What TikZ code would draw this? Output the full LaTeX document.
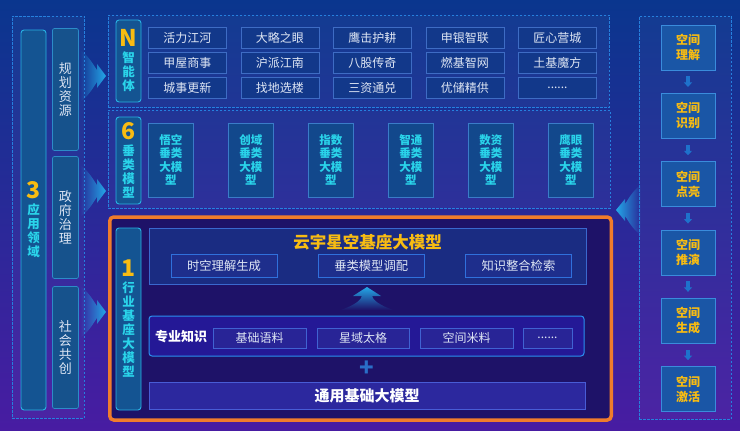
\documentclass[tikz,border=0pt]{standalone}
\usepackage{fontspec}
\setmainfont{Noto Sans CJK SC}
\usetikzlibrary{shapes,arrows,arrows.meta,fadings,positioning}
\definecolor{bgtop}{RGB}{10,54,142}
\definecolor{bgmid}{RGB}{9,24,94}
\definecolor{bgbot}{RGB}{72,28,162}
\definecolor{dashblue}{RGB}{38,128,222}
\definecolor{gold}{RGB}{248,188,18}
\definecolor{tagcyan}{RGB}{42,212,234}
\definecolor{tagfill}{RGB}{20,84,146}
\definecolor{tagline}{RGB}{40,178,228}
\definecolor{appfill}{RGB}{22,82,140}
\definecolor{appline}{RGB}{44,140,200}
\definecolor{gridline}{RGB}{62,108,196}
\definecolor{gridfill}{RGB}{18,56,138}
\definecolor{vertfill}{RGB}{18,72,140}
\definecolor{vertline}{RGB}{58,124,200}
\definecolor{softwhite}{RGB}{222,230,244}
\definecolor{orangeline}{RGB}{240,124,44}
\definecolor{deeppurple}{RGB}{30,18,104}
\definecolor{corefill}{RGB}{26,44,130}
\definecolor{coreline}{RGB}{58,104,206}
\definecolor{skillfill}{RGB}{30,46,140}
\definecolor{skillline}{RGB}{48,112,220}
\definecolor{knowfill}{RGB}{36,24,150}
\definecolor{knowline}{RGB}{42,144,240}
\definecolor{corpusfill}{RGB}{40,36,150}
\definecolor{corpusline}{RGB}{64,98,210}
\definecolor{basefill}{RGB}{44,40,158}
\definecolor{baseedge}{RGB}{72,92,214}
\definecolor{spacefill}{RGB}{26,86,166}
\definecolor{spaceline}{RGB}{58,140,220}
\definecolor{miniblue}{RGB}{30,114,204}
\definecolor{arrowcyan}{RGB}{36,168,232}
\definecolor{plusblue}{RGB}{42,110,200}
\tikzstyle{panel} = [draw=dashblue, dash pattern=on 2.5pt off 1.5pt, line width=0.9pt, fill=white, fill opacity=0.03, inner sep=0pt]
\tikzstyle{tag} = [draw=tagline, fill=tagfill, rounded corners=3pt, line width=0.9pt, inner sep=0pt, align=center, text=tagcyan, font=\bfseries\fontsize{12.5}{14}\selectfont]
\tikzstyle{appbox} = [draw=appline, fill=appfill, rounded corners=2pt, line width=0.7pt, minimum width=26pt, minimum height=122pt, inner sep=0pt, align=center, text=softwhite, font=\fontsize{13}{14}\selectfont]
\tikzstyle{agent} = [draw=gridline, fill=gridfill, line width=0.7pt, minimum width=78pt, minimum height=21pt, inner sep=0pt, text=softwhite, font=\fontsize{12}{12}\selectfont]
\tikzstyle{vertbox} = [draw=vertline, fill=vertfill, line width=0.8pt, minimum width=45pt, minimum height=74pt, inner sep=0pt, align=center, text=tagcyan, font=\bfseries\fontsize{11.5}{13.5}\selectfont]
\tikzstyle{found} = [draw=orangeline, line width=3.5pt, rounded corners=4pt, fill=deeppurple, inner sep=0pt]
\tikzstyle{corebox} = [draw=coreline, fill=corefill, line width=0.8pt, inner sep=0pt]
\tikzstyle{skill} = [draw=skillline, fill=skillfill, line width=0.9pt, minimum width=106pt, minimum height=23pt, inner sep=0pt, text=softwhite, font=\fontsize{12.3}{13}\selectfont]
\tikzstyle{knowbox} = [draw=knowline, fill=knowfill, line width=1pt, rounded corners=3pt, inner sep=0pt]
\tikzstyle{corpus} = [draw=corpusline, fill=corpusfill, line width=0.8pt, minimum height=20pt, inner sep=0pt, text=softwhite, font=\fontsize{12}{12}\selectfont]
\tikzstyle{basebox} = [draw=baseedge, fill=basefill, line width=0.8pt, inner sep=0pt, text=white, font=\bfseries\fontsize{15}{16}\selectfont]
\tikzstyle{spacebox} = [draw=spaceline, fill=spacefill, line width=0.8pt, minimum width=54pt, minimum height=45pt, inner sep=0pt, align=center, text=gold, font=\bfseries\fontsize{12}{15}\selectfont]
\tikzstyle{mini} = [draw=miniblue, line width=3.5pt, -{Triangle[width=8pt,length=4.5pt]}, shorten <=6pt, shorten >=6pt]
\tikzstyle{swoosh} = [fill=arrowcyan]
\newcommand\bignum[1]{{\fontsize{23}{24}\selectfont\color{gold}#1}}
\def\moredots{......}
\def\agentdx{92.5}
\def\vertdx{80}
\def\spacedy{68.3}

\begin{document}
\begin{tikzpicture}[x=1pt,y=-1pt]
    \useasboundingbox (0,0) rectangle (740,431);
    \fill[top color=bgtop, middle color=bgmid, bottom color=bgbot] (0,0) rectangle (740,431);

    % application fields
    \node (appframe) [panel, minimum width=72pt, minimum height=402pt] at (48,217) {};
    \node (applabel) [tag, minimum width=25pt, minimum height=380pt] at (33.5,220) {\bignum{3}\\[2pt]应\\用\\领\\域};
    \path (applabel.east)+(19,-130.5) node (plan) [appbox] {规\\划\\资\\源};
    \path (applabel.east)+(19,-2.5) node (govern) [appbox] {政\\府\\治\\理};
    \path (applabel.east)+(19,127.5) node (society) [appbox] {社\\会\\共\\创};

    \foreach \y in {76,191,312}
    {
        \fill[swoosh, path fading=west] (80,\y-26) .. controls (89,\y-20) and (94,\y-10) .. (97,\y-6) -- (97,\y-12) -- (106,\y) -- (97,\y+12) -- (97,\y+6) .. controls (94,\y+10) and (89,\y+20) .. (80,\y+26) -- cycle;
    }

    % N agents
    \node (agentframe) [panel, minimum width=501pt, minimum height=92pt] at (358.5,61) {};
    \node (agenttag) [tag, minimum width=25pt, minimum height=82pt] at (128.5,61) {\bignum{N}\\[2pt]智\\能\\体};
    \foreach \r/\row in {0/{活力江河,大略之眼,鹰击护耕,申银智联,匠心营城},1/{甲屋商事,沪派江南,八股传奇,燃基智网,土基魔方},2/{城事更新,找地选楼,三资通兑,优储精供,\moredots}}
    {
        \foreach \txt [count=\c from 0] in \row
        {
            \path (agenttag.east)+(46+\c*\agentdx,-23+\r*25) node (agent\r\c) [agent] {\txt};
        }
    }

    % 6 vertical models
    \node (vertframe) [panel, minimum width=502pt, minimum height=98pt] at (359,159) {};
    \node (verttag) [tag, minimum width=25pt, minimum height=87pt] at (128.5,160.5) {\bignum{6}\\[2pt]垂\\类\\模\\型};
    \foreach \txt [count=\c from 0] in {悟空,创域,指数,智通,数资,鹰眼}
    {
        \path (verttag.east)+(29.5+\c*\vertdx,-0.5) node (vert\c) [vertbox] {\txt\\垂类\\大模\\型};
    }

    % 1 industry base model
    \node (found) [found, minimum width=501.5pt, minimum height=203pt] at (360.5,318.5) {};
    \node (foundtag) [tag, minimum width=25pt, minimum height=182pt] at (128.5,319) {\bignum{1}\\[2pt]行\\业\\基\\座\\大\\模\\型};

    \node (core) [corebox, minimum width=437pt, minimum height=56pt] at (367.5,256) {};
    \path (core.center)+(0,-13.5) node (coretitle) [text=gold, font=\bfseries\fontsize{16.5}{17}\selectfont] {云宇星空基座大模型};
    \foreach \txt [count=\c from 0] in {时空理解生成,垂类模型调配,知识整合检索}
    {
        \path (core.center)+(-143.5+\c*147.2,9.5) node (skill\c) [skill] {\txt};
    }

    \fill[swoosh, path fading=south] (341,310) .. controls (355,305) and (361,300) .. (362,296) -- (353,296) -- (367,287) -- (381,296) -- (372,296) .. controls (373,300) and (379,305) .. (393,310) -- cycle;

    \node (know) [knowbox, minimum width=435pt, minimum height=40pt] at (366.5,336) {};
    \path (know.west)+(3,1) node (knowtitle) [anchor=west, text=white, font=\bfseries\fontsize{13}{14}\selectfont] {专业知识};
    \foreach \txt/\x/\w [count=\c from 0] in {基础语料/259.5/93pt,星域太格/363/92pt,空间米料/466.5/93pt,\moredots/547.5/49pt}
    {
        \node (corpus\c) [corpus, minimum width=\w] at (\x,338) {\txt};
    }

    \path (know.south)+(0,12.5) node (plus) [text=plusblue, font=\bfseries\fontsize{24}{24}\selectfont] {+};

    \node (base) [basebox, minimum width=436pt, minimum height=27pt] at (367,395.5) {通用基础大模型};

    % spatial chain
    \node (spaceframe) [panel, minimum width=92pt, minimum height=403pt] at (685,217.5) {};
    \foreach \txt [count=\c from 0] in {理解,识别,点亮,推演,生成,激活}
    {
        \path (spaceframe.north)+(3,32+\c*\spacedy) node (space\c) [spacebox] {空间\\\txt};
    }
    \foreach \a/\b in {0/1,1/2,2/3,3/4,4/5}
    {
        \draw[mini] (space\a) -- (space\b);
    }

    \fill[swoosh, path fading=east] (641,185) .. controls (632,191) and (628,200) .. (625,204) -- (625,199) -- (616,210) -- (625,221) -- (625,216) .. controls (628,220) and (632,229) .. (641,235) -- cycle;

\end{tikzpicture}
\end{document}
